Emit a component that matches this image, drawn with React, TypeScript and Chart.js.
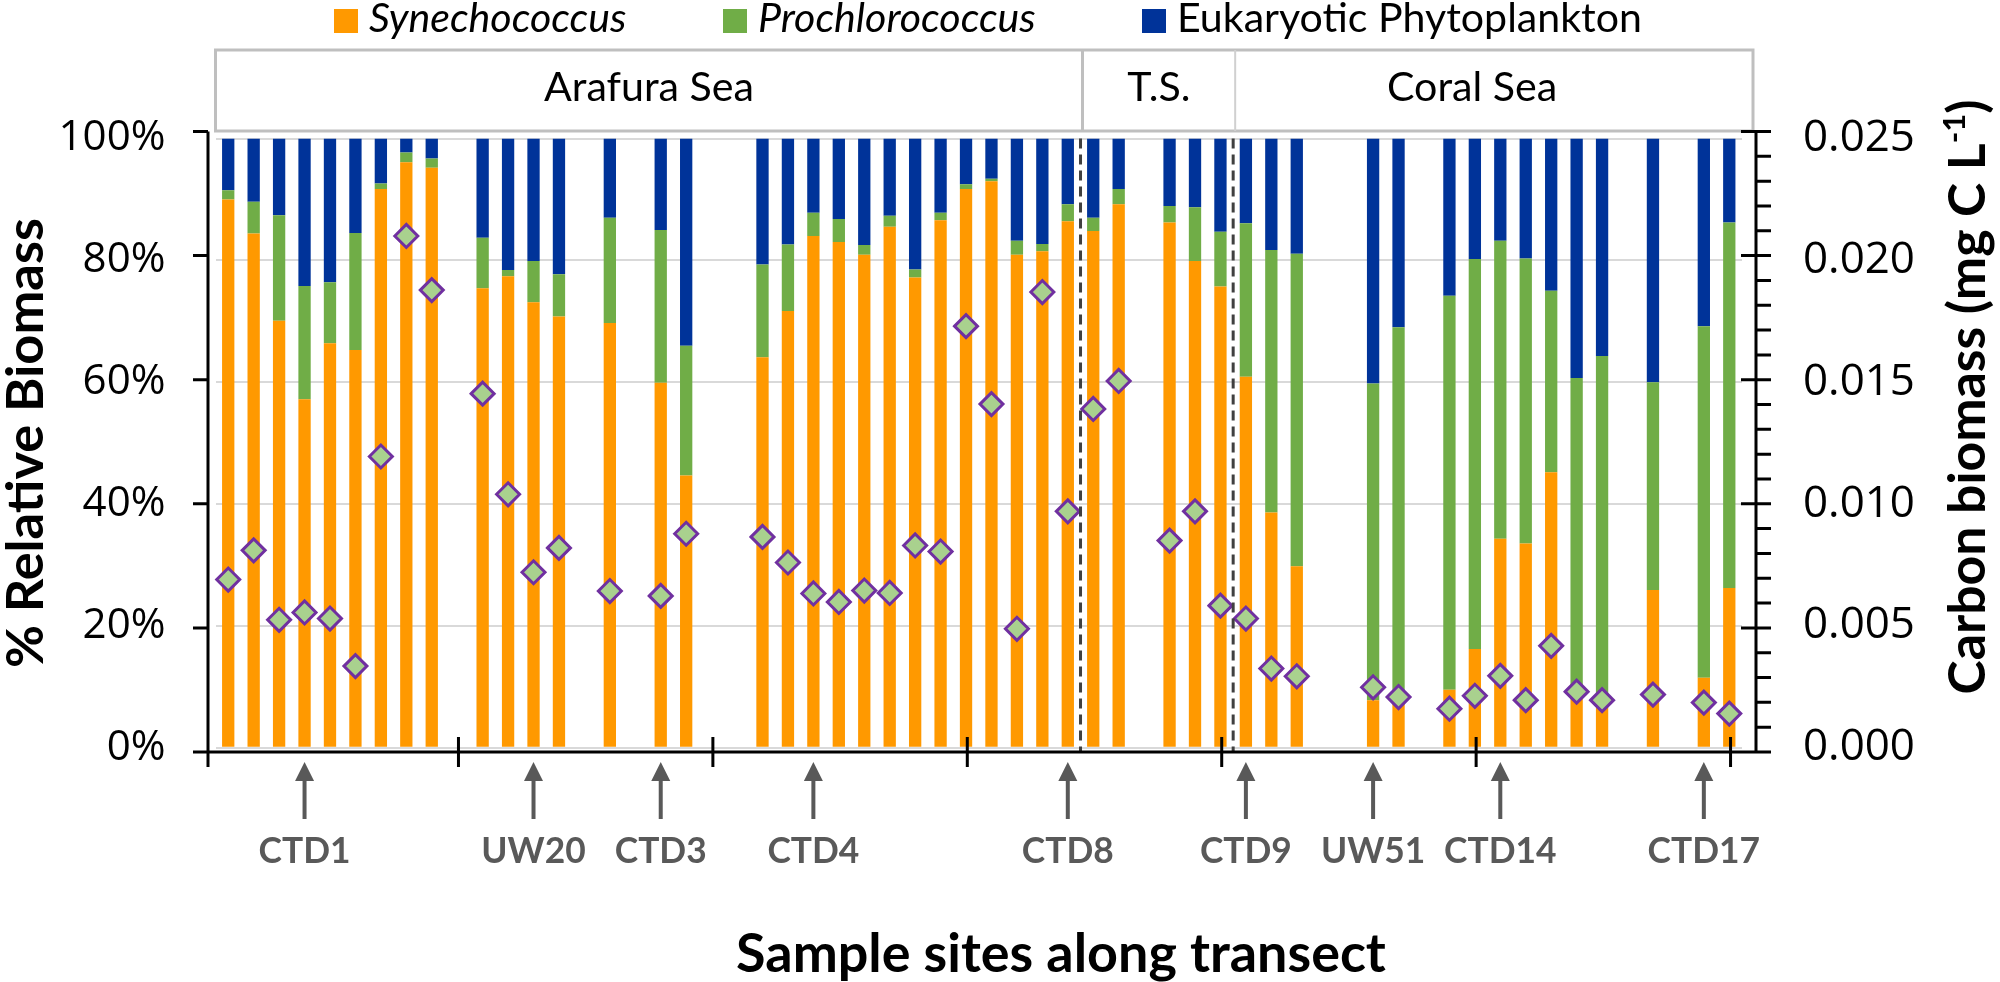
import React, { useEffect, useRef } from 'react'
import Chart from 'chart.js/auto'

// 60 sampling slots along the transect (empty slots keep the gaps)
const sites = Array.from({ length: 60 }, (_, i) => `S${i + 1}`)

// % relative biomass
const synechococcus = [
  90.0, 84.4, 70.1, 57.2, 66.4, 65.3, 91.7, 96.1, 95.2, null,
  75.4, 77.4, 73.1, 70.8, null, 69.7, null, 59.9, 44.7, null,
  null, 64.1, 71.7, 84.0, 83.0, 80.9, 85.5, 77.2, 86.6, 91.7,
  93.0, 80.9, 81.5, 86.4, 84.8, 89.2, null, 86.2, 79.9, 75.7,
  60.9, 38.6, 29.8, null, null, 7.8, 7.5, null, 9.5, 16.2,
  34.3, 33.5, 45.2, 8.0, 7.5, null, 25.9, null, 11.5, 26.2
]
const prochlorococcus = [
  1.5, 5.2, 17.3, 18.6, 10.0, 19.2, 0.9, 1.6, 1.5, null,
  8.3, 1.0, 6.8, 6.9, null, 17.3, null, 25.1, 21.3, null,
  null, 15.2, 10.9, 3.8, 3.8, 1.6, 1.8, 1.3, 1.2, 0.8,
  0.4, 2.3, 1.2, 2.8, 2.2, 2.5, null, 2.7, 8.8, 9.0,
  25.2, 43.1, 51.3, null, null, 52.0, 61.5, null, 64.7, 64.0,
  48.9, 46.8, 29.8, 52.7, 56.8, null, 34.1, null, 57.7, 60.0
]
const eukaryotes = [
  8.5, 10.4, 12.6, 24.2, 23.6, 15.5, 7.4, 2.3, 3.3, null,
  16.3, 21.6, 20.1, 22.3, null, 13.0, null, 15.0, 34.0, null,
  null, 20.7, 17.4, 12.2, 13.2, 17.5, 12.7, 21.5, 12.2, 7.5,
  6.6, 16.8, 17.3, 10.8, 13.0, 8.3, null, 11.1, 11.3, 15.3,
  13.9, 18.3, 18.9, null, null, 40.2, 31.0, null, 25.8, 19.8,
  16.8, 19.7, 25.0, 39.3, 35.7, null, 40.0, null, 30.8, 13.8
]

// carbon biomass, mg C L-1
const carbonBiomass = [
  0.0069, 0.0081, 0.00525, 0.00555, 0.0053, 0.00335, 0.01195, 0.021, 0.01878, null,
  0.01453, 0.0104, 0.0072, 0.0082, null, 0.00643, null, 0.00623, 0.00878, null,
  null, 0.00865, 0.0076, 0.00633, 0.00598, 0.00645, 0.00635, 0.0083, 0.00805, 0.0173,
  0.0141, 0.00488, 0.0187, 0.0097, 0.0139, 0.01505, null, 0.0085, 0.0097, 0.00583,
  0.0053, 0.00325, 0.00293, null, null, 0.00248, 0.00208, null, 0.0016, 0.00213,
  0.00295, 0.00195, 0.00418, 0.0023, 0.00195, null, 0.00218, null, 0.00185, 0.0014
]

const regionNames = ['Arafura Sea', 'T.S.', 'Coral Sea']
const regionBreaks = [33.5, 39.5] // between slot indices

const stationNames = ['CTD1', 'UW20', 'CTD3', 'CTD4', 'CTD8', 'CTD9', 'UW51', 'CTD14', 'CTD17']
const stationSites = [3, 12, 17, 23, 33, 40, 45, 50, 58]

const ORANGE = '#FF9900'
const GREEN = '#70AD47'
const BLUE = '#003399'
const GREY = '#595959'
const TEXT_FONT = 'Lato'
const TICK_FONT = 'Open Sans'

// font size that makes `text` span `target` px
function fitSize(ctx: CanvasRenderingContext2D, text: string, style: string, family: string, target: number) {
  ctx.font = `${style} 100px ${family}`
  return (100 * target) / ctx.measureText(text).width
}

const overlay = {
  id: 'overlay',
  afterDraw(chart: any) {
    const { ctx, chartArea: a } = chart
    const xs = chart.scales.x
    const axisLeft = a.left - 7.5
    const axisRight = a.right + 14
    const axisTop = a.top - 7
    const axisBottom = a.bottom + 4.3
    const tickY = (frac: number) => axisBottom - frac * (axisBottom - axisTop)

    ctx.save()

    // region header
    const hTop = 50
    const hBottom = a.top - 7.5
    const hRight = a.right + 11
    ctx.strokeStyle = '#BFBFBF'
    ctx.lineWidth = 3
    ctx.strokeRect(a.left, hTop, hRight - a.left, hBottom - hTop)
    const edges = [a.left, ...regionBreaks.map((b) => xs.getPixelForValue(b) + 2), hRight]
    ctx.beginPath()
    ctx.moveTo(edges[1], hTop)
    ctx.lineTo(edges[1], hBottom)
    ctx.stroke()
    ctx.strokeStyle = '#D0D0D0'
    ctx.lineWidth = 2
    ctx.beginPath()
    ctx.moveTo(edges[2], hTop)
    ctx.lineTo(edges[2], hBottom)
    ctx.stroke()
    const headSize = fitSize(ctx, 'Arafura Sea', '', TEXT_FONT, 210)
    const headShift = [0, 0, -22]
    ctx.fillStyle = '#000'
    ctx.font = `${headSize}px ${TEXT_FONT}`
    ctx.textAlign = 'center'
    ctx.textBaseline = 'alphabetic'
    regionNames.forEach((name, i) => {
      ctx.fillText(name, (edges[i] + edges[i + 1]) / 2 + headShift[i], 101)
    })

    // legend
    const items = chart.data.datasets.filter((d: any) => d.type !== 'line')
    const legSize = fitSize(ctx, 'Eukaryotic Phytoplankton', '', TEXT_FONT, 465)
    const legX = [334, 723, 1142]
    ctx.textAlign = 'left'
    items.forEach((d: any, i: number) => {
      ctx.fillStyle = d.backgroundColor
      ctx.fillRect(legX[i], 9, 24, 24)
      ctx.fillStyle = '#000'
      ctx.font = `${i < 2 ? 'italic ' : ''}${legSize}px ${TEXT_FONT}`
      ctx.fillText(d.label, legX[i] + 35, 32)
    })

    // dashed region dividers
    ctx.strokeStyle = '#404040'
    ctx.lineWidth = 3
    ctx.setLineDash([10, 6])
    regionBreaks.forEach((b) => {
      const px = xs.getPixelForValue(b)
      ctx.beginPath()
      ctx.moveTo(px, a.top)
      ctx.lineTo(px, axisBottom)
      ctx.stroke()
    })
    ctx.setLineDash([])

    // axes
    ctx.strokeStyle = '#000'
    ctx.lineWidth = 3
    ctx.beginPath()
    ctx.moveTo(axisLeft, axisTop)
    ctx.lineTo(axisLeft, axisBottom + 15)
    ctx.moveTo(axisLeft - 15, axisBottom)
    ctx.lineTo(axisRight, axisBottom)
    ctx.moveTo(axisRight, axisTop)
    ctx.lineTo(axisRight, axisBottom)
    for (let i = 1; i <= 5; i++) {
      ctx.moveTo(axisLeft - 15, tickY(i / 5))
      ctx.lineTo(axisLeft, tickY(i / 5))
    }
    for (let v = 0; v <= 25; v++) {
      const py = tickY(v / 25)
      ctx.moveTo(v % 5 === 0 ? axisRight - 15 : axisRight, py)
      ctx.lineTo(axisRight + 15, py)
    }
    for (let j = 1; j <= 6; j++) {
      const px = xs.getPixelForValue(10 * j - 0.95)
      ctx.moveTo(px, axisBottom - 15)
      ctx.lineTo(px, axisBottom + 15)
    }
    ctx.stroke()

    // station arrows and names
    ctx.fillStyle = GREY
    ctx.strokeStyle = GREY
    ctx.lineWidth = 4
    const stSize = fitSize(ctx, 'CTD8', 'bold', TEXT_FONT, 92)
    ctx.font = `bold ${stSize}px ${TEXT_FONT}`
    ctx.textAlign = 'center'
    ctx.textBaseline = 'alphabetic'
    stationSites.forEach((site, i) => {
      const px = xs.getPixelForValue(site)
      ctx.beginPath()
      ctx.moveTo(px, 819)
      ctx.lineTo(px, 778)
      ctx.stroke()
      ctx.beginPath()
      ctx.moveTo(px, 762)
      ctx.lineTo(px + 9.5, 781)
      ctx.lineTo(px - 9.5, 781)
      ctx.closePath()
      ctx.fill()
      ctx.fillText(stationNames[i], px, 863)
    })

    // axis titles
    ctx.fillStyle = '#000'
    const xTitle = 'Sample sites along transect'
    ctx.font = `bold ${fitSize(ctx, xTitle, 'bold', TEXT_FONT, 650)}px ${TEXT_FONT}`
    ctx.fillText(xTitle, 1061, 972)

    const yTitle = '% Relative Biomass'
    const ySize = fitSize(ctx, yTitle, 'bold', TEXT_FONT, 450)
    ctx.save()
    ctx.translate(43, 443)
    ctx.rotate(-Math.PI / 2)
    ctx.font = `bold ${ySize}px ${TEXT_FONT}`
    ctx.fillText(yTitle, 0, 0)
    ctx.restore()

    const main = 'Carbon biomass (mg C L'
    ctx.font = `bold 100px ${TEXT_FONT}`
    let w1 = ctx.measureText(main).width
    let w3 = ctx.measureText(')').width
    ctx.font = `bold 60px ${TEXT_FONT}`
    let w2 = ctx.measureText('-1').width
    const k = 595 / (w1 + w2 + w3)
    w1 *= k
    w2 *= k
    w3 *= k
    const big = 100 * k
    ctx.save()
    ctx.translate(1985, 397)
    ctx.rotate(-Math.PI / 2)
    ctx.textAlign = 'left'
    let tx = -(w1 + w2 + w3) / 2
    ctx.font = `bold ${big}px ${TEXT_FONT}`
    ctx.fillText(main, tx, 0)
    tx += w1
    ctx.font = `bold ${big * 0.6}px ${TEXT_FONT}`
    ctx.fillText('-1', tx, -big * 0.38)
    tx += w2
    ctx.font = `bold ${big}px ${TEXT_FONT}`
    ctx.fillText(')', tx, 0)
    ctx.restore()

    ctx.restore()
  }
}

export default function App() {
  const canvasRef = useRef<HTMLCanvasElement | null>(null)

  useEffect(() => {
    if (!canvasRef.current) return
    const measure = document.createElement('canvas').getContext('2d') as CanvasRenderingContext2D
    const leftTickSize = fitSize(measure, '100%', '', TICK_FONT, 107)
    const rightTickSize = fitSize(measure, '0.025', '', TICK_FONT, 112)

    const bar = (label: string, data: (number | null)[], color: string) => ({
      type: 'bar' as const,
      label,
      data,
      backgroundColor: color,
      borderWidth: 0,
      barPercentage: 0.484,
      categoryPercentage: 1,
      yAxisID: 'y',
      order: 2
    })
    const chart = new Chart(canvasRef.current, {
      type: 'bar',
      data: {
        labels: sites,
        datasets: [
          bar('Synechococcus', synechococcus, ORANGE),
          bar('Prochlorococcus', prochlorococcus, GREEN),
          bar('Eukaryotic Phytoplankton', eukaryotes, BLUE),
          {
            type: 'line',
            label: 'Carbon biomass',
            data: carbonBiomass,
            yAxisID: 'y1',
            showLine: false,
            pointStyle: 'rectRot',
            pointRadius: 11.5,
            pointBorderWidth: 3,
            pointBackgroundColor: '#A9D18E',
            pointBorderColor: '#7030A0',
            order: 1
          }
        ] as any
      },
      options: {
        responsive: false,
        devicePixelRatio: 1,
        animation: false,
        layout: { padding: { top: 138.5, bottom: 234.3, left: 0, right: 0 } },
        plugins: { legend: { display: false }, tooltip: { enabled: false } },
        scales: {
          x: { display: false, stacked: true },
          y: {
            stacked: true,
            min: 0,
            max: 100,
            ticks: {
              stepSize: 20,
              callback: (v: any) => `${v}%`,
              font: { family: TICK_FONT, size: leftTickSize },
              color: '#000',
              padding: 50
            },
            grid: { color: '#D9D9D9', lineWidth: 2, drawTicks: false },
            border: { display: false },
            afterFit: (s: any) => {
              s.width = 215.5
            }
          },
          y1: {
            position: 'right',
            min: 0,
            max: 0.025,
            ticks: {
              stepSize: 0.005,
              callback: (v: any) => Number(v).toFixed(3),
              font: { family: TICK_FONT, size: rightTickSize },
              color: '#000',
              padding: 61
            },
            grid: { display: false, drawTicks: false },
            border: { display: false },
            afterFit: (s: any) => {
              s.width = 258
            }
          }
        }
      },
      plugins: [overlay]
    } as any)
    return () => chart.destroy()
  }, [])

  return (
    <div style={{ position: 'absolute', left: 0, top: 0, width: 2000, height: 982, background: '#fff' }}>
      <canvas ref={canvasRef} width={2000} height={982} style={{ display: 'block' }} />
    </div>
  )
}
